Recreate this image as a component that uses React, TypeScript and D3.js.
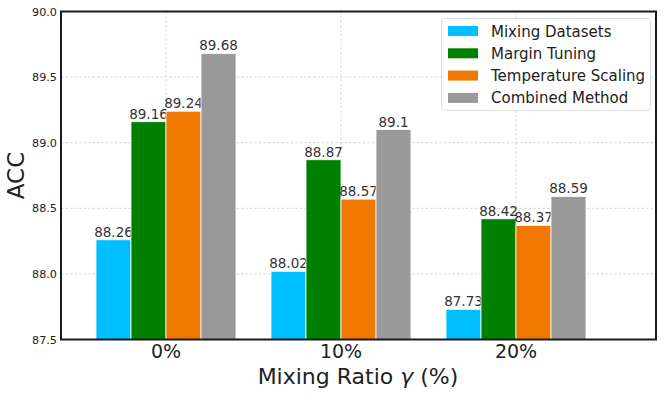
import React from "react";
import * as d3 from "d3";

const categories = ["0%", "10%", "20%"];
const seriesNames = ["Mixing Datasets", "Margin Tuning", "Temperature Scaling", "Combined Method"];
const mixingDatasets = [88.26, 88.02, 87.73];
const marginTuning = [89.16, 88.87, 88.42];
const temperatureScaling = [89.24, 88.57, 88.37];
const combinedMethod = [89.68, 89.1, 88.59];
const valueLabels = [
  ["88.26", "88.02", "87.73"],
  ["89.16", "88.87", "88.42"],
  ["89.24", "88.57", "88.37"],
  ["89.68", "89.1", "88.59"],
];
const yTicks = [87.5, 88.0, 88.5, 89.0, 89.5, 90.0];
const colors = ["#00bfff", "#008000", "#f07800", "#999999"];

const W = 665, H = 395;
const left = 61, right = 656, top = 11.5, bottom = 339.5;
const font = "DejaVu Sans, sans-serif";

export default function App() {
  const series = [mixingDatasets, marginTuning, temperatureScaling, combinedMethod];
  const x = d3.scaleLinear().domain([-0.6, 2.8]).range([left, right]);
  const y = d3.scaleLinear().domain([87.5, 90.0]).range([bottom, top]);
  const bw = 0.2;
  return (
    <svg width={W} height={H} style={{ position: "absolute", left: 0, top: 0 }} fontFamily={font}>
      <rect width={W} height={H} fill="white" />
      {yTicks.map((t) => (
        <line key={"gy" + t} x1={left} x2={right} y1={y(t)} y2={y(t)} stroke="#cccccc" strokeWidth={0.8} strokeDasharray="2.5,2" />
      ))}
      {categories.map((c, i) => (
        <line key={"gx" + c} x1={x(i)} x2={x(i)} y1={top} y2={bottom} stroke="#cccccc" strokeWidth={0.8} strokeDasharray="2.5,2" />
      ))}
      {series.map((s, si) =>
        s.map((v, i) => {
          const cx = i + (si - 1.5) * bw;
          const x0 = x(cx - bw / 2), x1 = x(cx + bw / 2);
          return (
            <g key={si + "-" + i}>
              <rect x={x0} y={y(v)} width={x1 - x0} height={y(87.5) - y(v)} fill={colors[si]} stroke="white" strokeWidth={0.8} />
              <text x={(x0 + x1) / 2} y={y(v) - 3} textAnchor="middle" fontSize={13.5} fill="#333">{valueLabels[si][i]}</text>
            </g>
          );
        })
      )}
      <rect x={left} y={top} width={right - left} height={bottom - top} fill="none" stroke="#1a1a1a" strokeWidth={2} />
      {yTicks.map((t) => (
        <text key={"yt" + t} x={left - 4} y={y(t) + 4} textAnchor="end" fontSize={11.2} fill="#222">{t.toFixed(1)}</text>
      ))}
      {categories.map((c, i) => (
        <text key={"xt" + c} x={x(i)} y={358} textAnchor="middle" fontSize={19} fill="#222">{c}</text>
      ))}
      <text x={358} y={383.5} textAnchor="middle" fontSize={22} fill="#222">Mixing Ratio <tspan fontStyle="italic">γ</tspan> (%)</text>
      <text transform={`translate(24,${(top + bottom) / 2}) rotate(-90)`} textAnchor="middle" fontSize={23} fill="#222">ACC</text>
      <g>
        <rect x={441.5} y={18.5} width={209} height={92} rx={3} fill="white" fillOpacity={0.85} stroke="#d6d6d6" strokeWidth={0.8} />
        {seriesNames.map((n, i) => (
          <g key={n}>
            <rect x={448} y={26 + i * 22.3} width={30} height={10} fill={colors[i]} />
            <text x={491} y={36.5 + i * 22.3} fontSize={15} fill="#222">{n}</text>
          </g>
        ))}
      </g>
    </svg>
  );
}
